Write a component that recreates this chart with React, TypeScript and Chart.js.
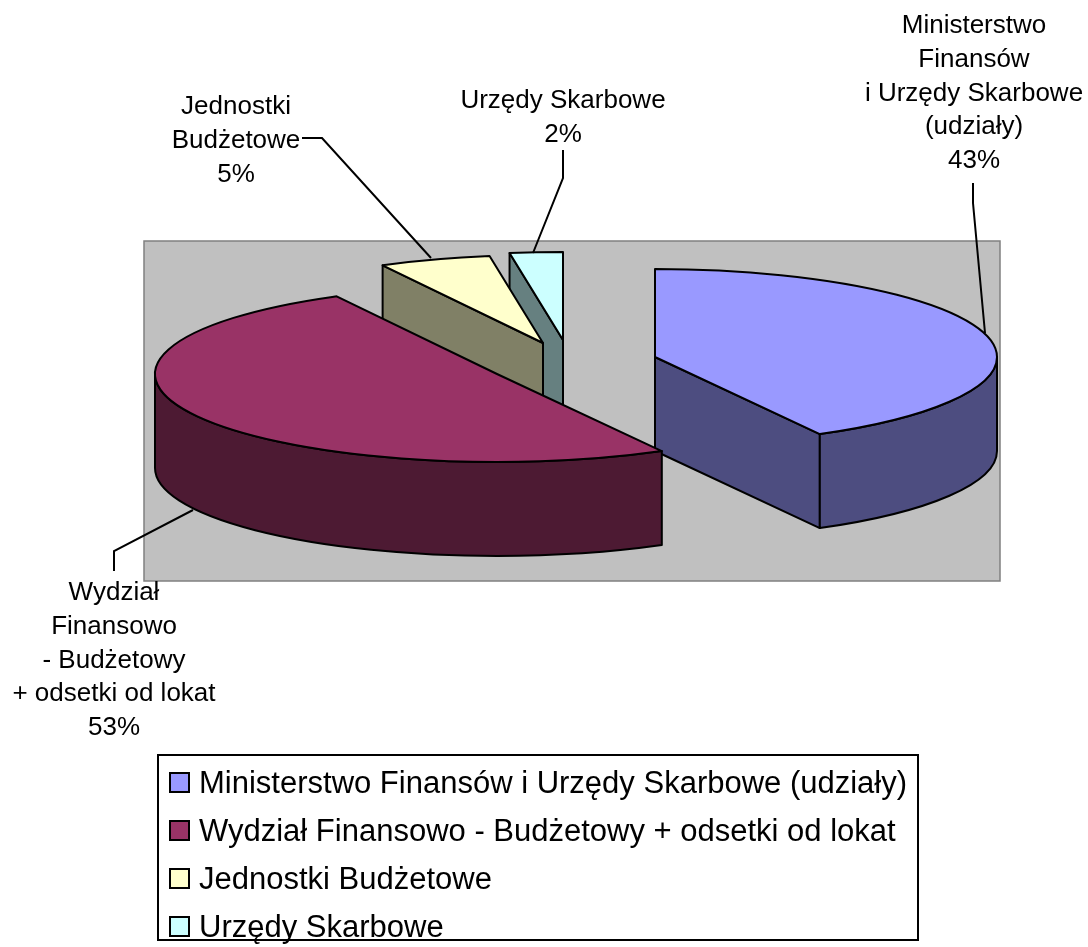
import React, { useEffect, useRef } from "react";
import { Chart, registerables } from "chart.js";

Chart.register(...registerables);

// ---- data ----
const categories = [
  "Ministerstwo Finansów i Urzędy Skarbowe (udziały)",
  "Wydział Finansowo - Budżetowy + odsetki od lokat",
  "Jednostki Budżetowe",
  "Urzędy Skarbowe",
];
const shares = [43, 53, 5, 2];
const percentLabels = ["43%", "53%", "5%", "2%"];
const calloutLines = [
  ["Ministerstwo", "Finansów", "i Urzędy Skarbowe", "(udziały)"],
  ["Wydział", "Finansowo", "- Budżetowy", "+ odsetki od lokat"],
  ["Jednostki", "Budżetowe"],
  ["Urzędy Skarbowe"],
];

// ---- style and layout ----
const topColors = ["#9999FF", "#993366", "#FFFFCC", "#CCFFFF"];
const sideColors = ["#4D4D80", "#4D1A33", "#808066", "#668080"];
const FONT = '"Liberation Sans", Arial, sans-serif';
const TILT = 88 / 342;
const DEPTH = 94;
const explode = [
  [71, -5],
  [-87, 12],
  [-41, -19],
  [-21, -22],
];
// Boundary corrections (degrees) imitating the reference's 3D projection.
const projection = [0, 0.9, -3.5, -2, 0];
const drawOrder = [3, 2, 0, 1];
const plotRect = { x: 144, y: 241, w: 856, h: 340 };
const calloutStyle = [
  { cx: 974, y: 33, line: [[973, 183], [973, 203], [985, 333]] },
  { cx: 114, y: 600, line: [[114, 571], [114, 551], [193, 510]] },
  { cx: 236, y: 114, line: [[302, 138], [322, 138], [431, 258]] },
  { cx: 563, y: 108, line: [[563, 150], [563, 178], [533, 253]] },
];
const legendBox = { x: 158, y: 755, w: 760, h: 185, swatchX: 170, textX: 199, firstBase: 793, step: 48, swatch: 19 };

const pie3d = {
  id: "pie3d",
  afterDatasetsUpdate(chart: any) {
    const deg = Math.PI / 180;
    chart.getDatasetMeta(0).data.forEach((el: any, i: number) => {
      el.startAngle += projection[i] * deg;
      el.endAngle += projection[i + 1] * deg;
      el.circumference = el.endAngle - el.startAngle;
    });
  },
  beforeDraw(chart: any) {
    const { ctx } = chart;
    ctx.save();
    ctx.fillStyle = "#C0C0C0";
    ctx.strokeStyle = "#808080";
    ctx.lineWidth = 1.5;
    ctx.fillRect(plotRect.x, plotRect.y, plotRect.w, plotRect.h);
    ctx.strokeRect(plotRect.x, plotRect.y, plotRect.w, plotRect.h);
    ctx.restore();
  },
  beforeDatasetsDraw(chart: any) {
    const { ctx } = chart;
    const arcs = chart.getDatasetMeta(0).data;
    ctx.save();
    ctx.lineWidth = 2;
    ctx.lineJoin = "round";
    ctx.strokeStyle = "#000";
    drawOrder.forEach((i) => {
      const el = arcs[i];
      const cx = el.x + explode[i][0];
      const cy = el.y + explode[i][1];
      const rx = el.outerRadius;
      const ry = rx * TILT;
      const a0 = el.startAngle;
      const a1 = el.endAngle;
      const face = (a: number) => {
        const px = cx + rx * Math.cos(a);
        const py = cy + ry * Math.sin(a);
        ctx.beginPath();
        ctx.moveTo(cx, cy);
        ctx.lineTo(px, py);
        ctx.lineTo(px, py + DEPTH);
        ctx.lineTo(cx, cy + DEPTH);
        ctx.closePath();
        ctx.fillStyle = sideColors[i];
        ctx.fill();
        ctx.stroke();
      };
      if (Math.cos(a0) < -1e-6) face(a0);
      if (Math.cos(a1) > 1e-6) face(a1);
      const w0 = Math.max(a0, 0);
      const w1 = Math.min(a1, Math.PI);
      if (w1 > w0) {
        ctx.beginPath();
        ctx.ellipse(cx, cy, rx, ry, 0, w0, w1);
        ctx.ellipse(cx, cy + DEPTH, rx, ry, 0, w1, w0, true);
        ctx.closePath();
        ctx.fillStyle = sideColors[i];
        ctx.fill();
        ctx.stroke();
      }
      // top face: the library's own arc element, squashed into perspective
      ctx.save();
      ctx.translate(cx, cy);
      ctx.scale(1, TILT);
      ctx.translate(-el.x, -el.y);
      el.draw(ctx);
      ctx.restore();
      ctx.beginPath();
      ctx.moveTo(cx, cy);
      ctx.ellipse(cx, cy, rx, ry, 0, a0, a1);
      ctx.closePath();
      ctx.stroke();
    });
    ctx.restore();
    return false;
  },
  afterDraw(chart: any) {
    const { ctx } = chart;
    ctx.save();
    // callouts
    ctx.strokeStyle = "#000";
    ctx.lineWidth = 2;
    ctx.fillStyle = "#000";
    ctx.font = `26px ${FONT}`;
    ctx.textAlign = "center";
    ctx.textBaseline = "alphabetic";
    calloutStyle.forEach((c, i) => {
      ctx.beginPath();
      c.line.forEach(([x, y], j) => (j ? ctx.lineTo(x, y) : ctx.moveTo(x, y)));
      ctx.stroke();
      const lines = [...calloutLines[i], percentLabels[i]];
      lines.forEach((t, j) => ctx.fillText(t, c.cx, c.y + j * 33.8));
    });
    // legend
    const L = legendBox;
    ctx.fillStyle = "#fff";
    ctx.lineWidth = 2;
    ctx.fillRect(L.x, L.y, L.w, L.h);
    ctx.strokeRect(L.x, L.y, L.w, L.h);
    ctx.font = `31px ${FONT}`;
    ctx.textAlign = "left";
    ctx.lineWidth = 2;
    categories.forEach((name, i) => {
      const base = L.firstBase + i * L.step;
      ctx.fillStyle = topColors[i];
      ctx.fillRect(L.swatchX, base - 20, L.swatch, L.swatch);
      ctx.strokeRect(L.swatchX, base - 20, L.swatch, L.swatch);
      ctx.fillStyle = "#000";
      ctx.fillText(name, L.textX, base);
    });
    ctx.restore();
  },
};

export default function App() {
  const ref = useRef<HTMLCanvasElement | null>(null);
  useEffect(() => {
    const chart = new Chart(ref.current as HTMLCanvasElement, {
      type: "pie",
      data: {
        labels: categories,
        datasets: [{ data: shares, backgroundColor: topColors, borderWidth: 0 }],
      },
      options: {
        animation: false,
        responsive: false,
        devicePixelRatio: 1,
        layout: { padding: { left: 241.5, right: 161.5, top: 20, bottom: 243 } },
        plugins: { legend: { display: false }, tooltip: { enabled: false } },
      },
      plugins: [pie3d],
    } as any);
    return () => chart.destroy();
  }, []);
  return (
    <canvas
      ref={ref}
      width={1088}
      height={947}
      style={{ position: "absolute", left: 0, top: 0, display: "block" }}
    />
  );
}
